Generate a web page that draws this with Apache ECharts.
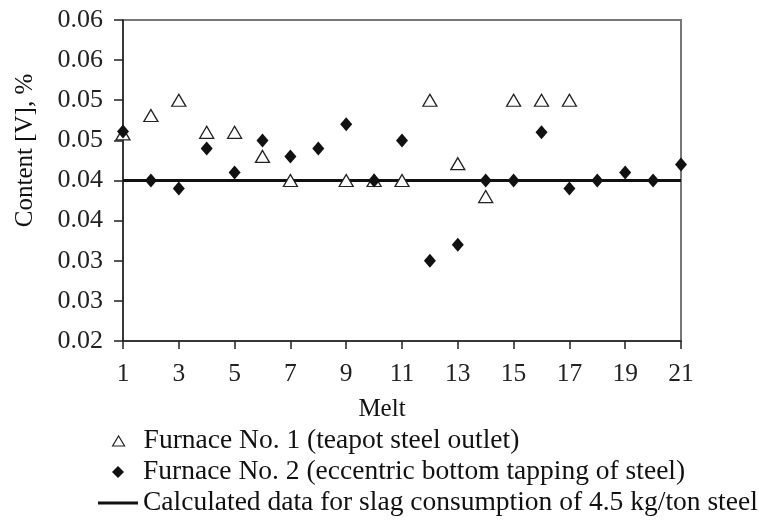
<!DOCTYPE html>
<html>
<head>
<meta charset="utf-8">
<script src="https://cdn.jsdelivr.net/npm/echarts@6/dist/echarts.min.js"></script>
<style>html,body{margin:0;padding:0;background:#fff}#c{width:759px;height:522px}</style>
</head>
<body>
<div id="c"></div>
<script>
const melts = [1,2,3,4,5,6,7,8,9,10,11,12,13,14,15,16,17,18,19,20,21];
const furnace1 = [0.0458,0.0481,0.0500,0.0460,0.0460,0.0430,0.0400,null,0.0400,0.0400,0.0400,0.0500,0.0421,0.0380,0.0500,0.0500,0.0500,null,null,null,null];
const furnace2 = [0.0461,0.0400,0.0390,0.0440,0.0410,0.0450,0.0430,0.0440,0.0470,0.0400,0.0450,0.0300,0.0320,0.0400,0.0400,0.0460,0.0390,0.0400,0.0410,0.0400,0.0420];
const calcX = [1, 21];
const calcY = [0.040, 0.040];
const yTickLabels = ['0.02','0.03','0.03','0.04','0.04','0.05','0.05','0.06','0.06'];
const seriesNames = ['Furnace No. 1 (teapot steel outlet)','Furnace No. 2 (eccentric bottom tapping of steel)','Calculated data for slag consumption of 4.5 kg/ton steel'];

const FONT = 'Liberation Serif';
const pair = (xs, ys) => xs.map((x, i) => [x, ys[i]]).filter(p => p[1] !== null);
const legendText = {fontFamily: FONT, fontSize: 27.5, color: '#111'};

const chart = echarts.init(document.getElementById('c'), null, {renderer: 'canvas'});
chart.setOption({
  animation: false,
  backgroundColor: '#fff',
  textStyle: {fontFamily: FONT, color: '#111'},
  grid: {left: 123, top: 20, right: 78, bottom: 181, show: true, borderColor: '#777', borderWidth: 2, backgroundColor: 'transparent'},
  xAxis: {
    type: 'value', min: 1, max: 21, interval: 2,
    name: 'Melt', nameLocation: 'middle', nameGap: 56,
    nameTextStyle: {fontFamily: FONT, fontSize: 25, color: '#111', padding: [0, 40, 0, 0]},
    axisLine: {show: true, onZero: false, lineStyle: {color: '#222', width: 1.5}},
    axisTick: {show: true, length: 8, inside: false, lineStyle: {color: '#222', width: 1.5}},
    axisLabel: {fontFamily: FONT, fontSize: 25.5, color: '#222', margin: 20},
    splitLine: {show: false}
  },
  yAxis: {
    type: 'value', min: 0.02, max: 0.06, interval: 0.005,
    name: 'Content [V], %', nameLocation: 'middle', nameGap: 85, nameRotate: 90,
    nameTextStyle: {fontFamily: FONT, fontSize: 25, color: '#111', padding: [0, 0, 0, 60]},
    axisLine: {show: true, onZero: false, lineStyle: {color: '#222', width: 1.5}},
    axisTick: {show: true, length: 9, inside: false, lineStyle: {color: '#222', width: 1.5}},
    axisLabel: {fontFamily: FONT, fontSize: 26, color: '#222', margin: 20,
      formatter: v => yTickLabels[Math.round((v - 0.02) / 0.005)]},
    splitLine: {show: false}
  },
  legend: [
    {
      orient: 'vertical', left: 112, top: 427, padding: 0,
      itemWidth: 12, itemHeight: 10,
      textStyle: Object.assign({padding: [0, 0, 0, 14]}, legendText),
      data: [{name: seriesNames[0], icon: 'triangle', itemStyle: {color: '#fff', borderColor: '#222', borderWidth: 1.2}}]
    },
    {
      orient: 'vertical', left: 112, top: 458, padding: 0,
      itemWidth: 12, itemHeight: 12,
      textStyle: Object.assign({padding: [0, 0, 0, 14]}, legendText),
      data: [{name: seriesNames[1], icon: 'diamond', itemStyle: {color: '#111', borderWidth: 0}}]
    },
    {
      orient: 'vertical', left: 98, top: 489, padding: 0,
      itemWidth: 40, itemHeight: 3,
      textStyle: legendText,
      data: [{name: seriesNames[2], icon: 'rect', itemStyle: {color: '#111', borderWidth: 0}}]
    }
  ],
  series: [
    {
      name: seriesNames[2], type: 'line', data: pair(calcX, calcY), symbol: 'none',
      lineStyle: {color: '#111', width: 3}, z: 1
    },
    {
      name: seriesNames[0], type: 'scatter', data: pair(melts, furnace1),
      symbol: 'triangle', symbolSize: [14, 12],
      itemStyle: {color: '#fff', borderColor: '#222', borderWidth: 1.3, opacity: 1}, z: 2
    },
    {
      name: seriesNames[1], type: 'scatter', data: pair(melts, furnace2),
      symbol: 'diamond', symbolSize: [12, 14],
      itemStyle: {color: '#111', opacity: 1}, z: 3
    }
  ]
});
</script>
</body>
</html>
